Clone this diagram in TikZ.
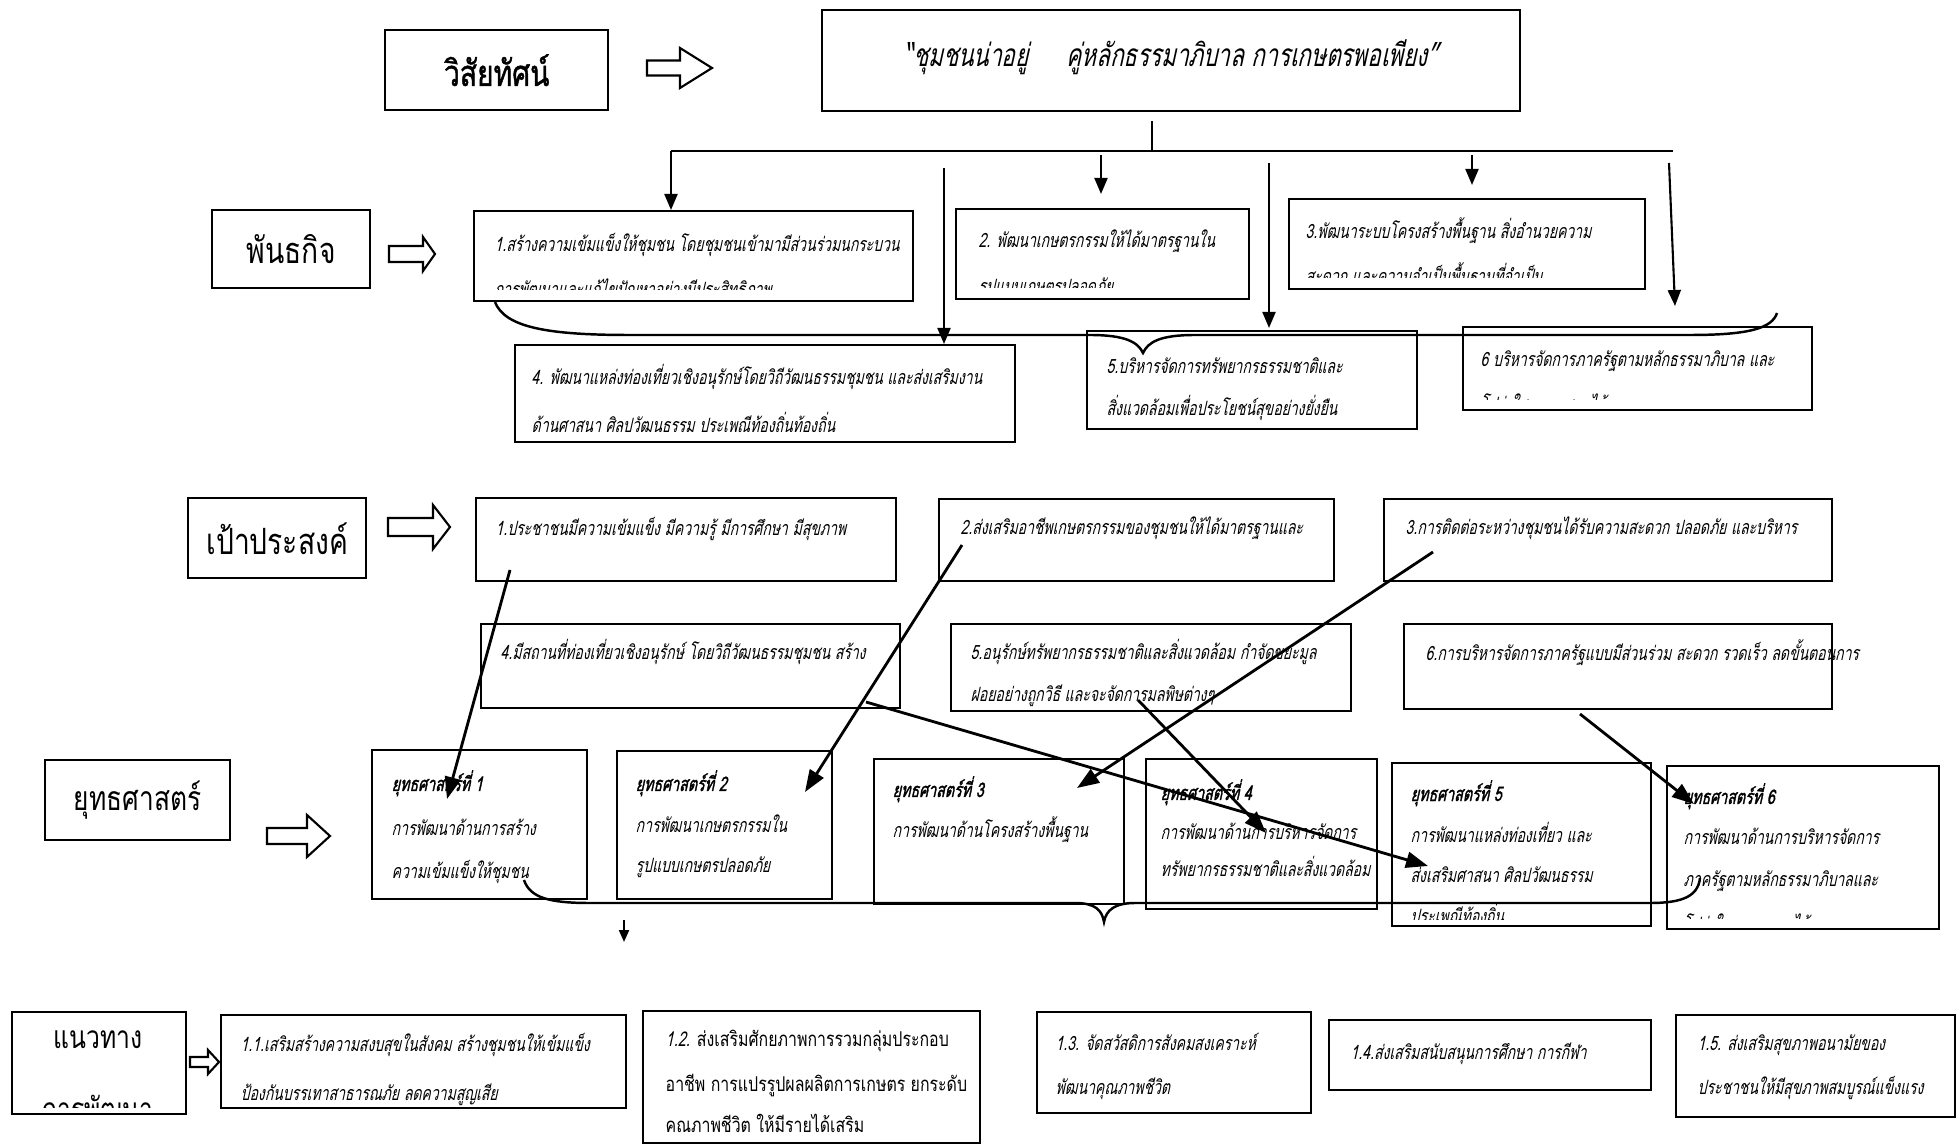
\documentclass[tikz,border=0pt]{standalone}
\usepackage{fontspec}
\usetikzlibrary{arrows.meta,calc,positioning}
\newfontfamily\thaiup[Script=Thai,FakeStretch=0.78]{Loma}
\newfontfamily\thaiit[Script=Thai,FakeSlant=0.22,FakeStretch=0.71]{Loma}
\newfontfamily\thaibi[Script=Thai,FakeSlant=0.22,FakeStretch=0.71,FakeBold=1.5]{Loma}
\newfontfamily\thaihd[Script=Thai,FakeStretch=0.78,FakeBold=1.2]{Loma}
%% block arrow: x, y, shaft end, tip, shaft half width, head half width
\newcommand{\hollowarrow}[6]{%
  \draw[harrow,shift={(#1,#2)}] (0,-#5) -- (#3,-#5) -- (#3,-#6) -- (#4,0)
    -- (#3,#6) -- (#3,#5) -- (0,#5) -- cycle;}

\begin{document}
\begin{tikzpicture}
  [box/.style={draw,line width=0.7pt,anchor=north west,inner sep=0pt},
   lbl/.style={font=\thaiup\fontsize{10.3}{12}\selectfont,inner sep=0pt},
   itx/.style={font=\thaiit\fontsize{5.6}{7}\selectfont,anchor=base west,inner sep=0pt},
   btx/.style={itx,font=\thaibi\fontsize{5.7}{7}\selectfont},
   utx/.style={itx,font=\thaiup\fontsize{5.8}{7}\selectfont},
   line/.style={line width=0.6pt},
   down/.style={line width=0.6pt,-{Triangle[length=0.16cm,width=0.13cm]}},
   link/.style={line width=0.8pt,-{Triangle[length=0.22cm,width=0.16cm]}},
   harrow/.style={line width=0.6pt,line join=miter},
   brace/.style={line width=0.7pt}]
\useasboundingbox (0,0) rectangle (19.6,-11.44);
%%
%% vision
\node[box,minimum width=2.23cm,minimum height=0.80cm] (vlab) at (3.84,-0.29) {};
\node[lbl,font=\thaihd\fontsize{10.3}{12}\selectfont] (vlabt) at (vlab) {วิสัยทัศน์};
\hollowarrow{6.47}{-0.68}{0.33}{0.65}{0.075}{0.20}
\node[box,minimum width=6.98cm,minimum height=1.01cm] (vis) at (8.21,-0.09) {};
\node[inner sep=0pt,font=\thaiit\fontsize{9}{10}\selectfont] (vist) at ($(vis)+(0,0.03)$)
  {“ชุมชนน่าอยู่\hspace{0.38cm}คู่หลักธรรมาภิบาล การเกษตรพอเพียง”};
%%
%% mission
\node[box,minimum width=1.58cm,minimum height=0.78cm] (mlab) at (2.11,-2.09) {};
\node[lbl] (mlabt) at (mlab) {พันธกิจ};
\hollowarrow{3.89}{-2.54}{0.34}{0.46}{0.08}{0.17}
\node[box,minimum width=4.39cm,minimum height=0.90cm] (m1) at (4.73,-2.10) {};
\node[box,minimum width=2.93cm,minimum height=0.90cm] (m2) at (9.55,-2.08) {};
\node[box,minimum width=3.56cm,minimum height=0.90cm] (m3) at (12.88,-1.98) {};
\node[box,minimum width=5.00cm,minimum height=0.97cm] (m4) at (5.14,-3.44) {};
\node[box,minimum width=3.30cm,minimum height=0.98cm] (m5) at (10.86,-3.30) {};
\node[box,minimum width=3.49cm,minimum height=0.83cm] (m6) at (14.62,-3.26) {};
\node[itx] (m1a) at ($(m1.north west)+(0.21,-0.42)$) {1.สร้างความเข้มแข็งให้ชุมชน โดยชุมชนเข้ามามีส่วนร่วมนกระบวน};
\node[itx] (m2a) at ($(m2.north west)+(0.23,-0.40)$) {2. พัฒนาเกษตรกรรมให้ได้มาตรฐานใน};
\node[itx] (m3a) at ($(m3.north west)+(0.17,-0.41)$) {3.พัฒนาระบบโครงสร้างพื้นฐาน สิ่งอำนวยความ};
\node[itx] (m4a) at ($(m4.north west)+(0.17,-0.41)$) {4. พัฒนาแหล่งท่องเที่ยวเชิงอนุรักษ์โดยวิถีวัฒนธรรมชุมชน และส่งเสริมงาน};
\node[itx] (m4b) at ($(m4.north west)+(0.17,-0.89)$) {ด้านศาสนา ศิลปวัฒนธรรม ประเพณีท้องถิ่นท้องถิ่น};
\node[itx] (m5a) at ($(m5.north west)+(0.20,-0.44)$) {5.บริหารจัดการทรัพยากรธรรมชาติและ};
\node[itx] (m5b) at ($(m5.north west)+(0.20,-0.86)$) {สิ่งแวดล้อมเพื่อประโยชน์สุขอย่างยั่งยืน};
\node[itx] (m6a) at ($(m6.north west)+(0.18,-0.41)$) {6 บริหารจัดการภาครัฐตามหลักธรรมาภิบาล และ};
\begin{scope}
\clip (m1.north west) rectangle ($(m1.north east)+(0,-0.80)$);
\node[itx] (m1b) at ($(m1.north west)+(0.21,-0.87)$) {การพัฒนาและแก้ไขปัญหาอย่างมีประสิทธิภาพ};
\end{scope}
\begin{scope}
\clip (m2.north west) rectangle ($(m2.north east)+(0,-0.80)$);
\node[itx] (m2b) at ($(m2.north west)+(0.23,-0.86)$) {รูปแบบเกษตรปลอดภัย};
\end{scope}
\begin{scope}
\clip (m3.north west) rectangle ($(m3.north east)+(0,-0.80)$);
\node[itx] (m3b) at ($(m3.north west)+(0.17,-0.86)$) {สะดวก และความจำเป็นพื้นฐานที่จำเป็น};
\end{scope}
\begin{scope}
\clip (m6.north west) rectangle ($(m6.north east)+(0,-0.74)$);
\node[itx] (m6b) at ($(m6.north west)+(0.18,-0.86)$) {โปร่งใส ตรวจสอบได้};
\end{scope}
%%
\coordinate (vs) at ($(vis.south)+(-0.19,-0.09)$);
\coordinate (busl) at (6.71,-1.51);
\coordinate (busr) at (16.73,-1.51);
\draw[line] (vs) -- (vs |- busl);
\draw[line] (busl) -- (busr);
\draw[down] (busl) -- (busl |- m1.north);
\coordinate (t4) at (9.44,-1.68);
\draw[down] (t4) -- (t4 |- m4.north);
\coordinate (t2) at (11.01,-1.55);
\coordinate (e2) at (11.01,-1.94);
\draw[down] (t2) -- (e2);
\coordinate (t5) at (12.69,-1.63);
\draw[down] (t5) -- ($(t5 |- m5.north)+(0,0.02)$);
\coordinate (t3) at (14.72,-1.55);
\coordinate (e3) at (14.72,-1.85);
\draw[down] (t3) -- (e3);
\coordinate (t6) at (16.69,-1.63);
\coordinate (e6) at (16.75,-3.06);
\draw[down] (t6) -- (e6);
%% brace under the missions
\draw[brace] (4.95,-3.02) .. controls (5.05,-3.28) and (5.5,-3.35) .. (6.3,-3.35)
  -- (10.9,-3.35) .. controls (11.25,-3.35) and (11.38,-3.42) .. (11.43,-3.53)
  .. controls (11.48,-3.42) and (11.6,-3.35) .. (11.95,-3.35)
  -- (16.9,-3.35) .. controls (17.5,-3.35) and (17.72,-3.28) .. (17.77,-3.13);
%%
%% goals
\node[box,minimum width=1.78cm,minimum height=0.80cm] (glab) at (1.87,-4.97) {};
\node[lbl] (glabt) at (glab) {เป้าประสงค์};
\hollowarrow{3.88}{-5.27}{0.45}{0.62}{0.09}{0.22}
\node[box,minimum width=4.20cm,minimum height=0.83cm] (g1) at (4.75,-4.97) {};
\node[box,minimum width=3.95cm,minimum height=0.82cm] (g2) at (9.38,-4.98) {};
\node[box,minimum width=4.48cm,minimum height=0.82cm] (g3) at (13.83,-4.98) {};
\node[box,minimum width=4.19cm,minimum height=0.84cm] (g4) at (4.80,-6.23) {};
\node[box,minimum width=4.00cm,minimum height=0.87cm] (g5) at (9.50,-6.23) {};
\node[box,minimum width=4.28cm,minimum height=0.85cm] (g6) at (14.03,-6.23) {};
\node[itx] (g1a) at ($(g1.north west)+(0.20,-0.39)$) {1.ประชาชนมีความเข้มแข็ง มีความรู้ มีการศึกษา มีสุขภาพ};
\node[itx] (g2a) at ($(g2.north west)+(0.22,-0.37)$) {2.ส่งเสริมอาชีพเกษตรกรรมของชุมชนให้ได้มาตรฐานและ};
\node[itx] (g3a) at ($(g3.north west)+(0.22,-0.37)$) {3.การติดต่อระหว่างชุมชนได้รับความสะดวก ปลอดภัย และบริหาร};
\node[itx] (g4a) at ($(g4.north west)+(0.20,-0.37)$) {4.มีสถานที่ท่องเที่ยวเชิงอนุรักษ์ โดยวิถีวัฒนธรรมชุมชน สร้าง};
\node[itx] (g5a) at ($(g5.north west)+(0.20,-0.37)$) {5.อนุรักษ์ทรัพยากรธรรมชาติและสิ่งแวดล้อม กำจัดขยะมูล};
\node[itx] (g6a) at ($(g6.north west)+(0.22,-0.38)$) {6.การบริหารจัดการภาครัฐแบบมีส่วนร่วม สะดวก รวดเร็ว ลดขั้นตอนการ};
\begin{scope}
\clip (g5.north west) rectangle ($(g5.north east)+(0,-0.84)$);
\node[itx] (g5b) at ($(g5.north west)+(0.20,-0.79)$) {ฝอยอย่างถูกวิธี และจะจัดการมลพิษต่างๆ};
\end{scope}
%%
%% strategies
\node[box,minimum width=1.85cm,minimum height=0.80cm] (slab) at (0.44,-7.59) {};
\node[lbl,font=\thaiup\fontsize{9.6}{12}\selectfont] (slabt) at (slab) {ยุทธศาสตร์};
\hollowarrow{2.67}{-8.36}{0.40}{0.63}{0.08}{0.21}
\node[box,minimum width=2.15cm,minimum height=1.49cm] (s1) at (3.71,-7.49) {};
\node[box,minimum width=2.15cm,minimum height=1.48cm] (s2) at (6.16,-7.50) {};
\node[box,minimum width=2.50cm,minimum height=1.45cm] (s3) at (8.73,-7.58) {};
\node[box,minimum width=2.31cm,minimum height=1.50cm] (s4) at (11.45,-7.58) {};
\node[box,minimum width=2.59cm,minimum height=1.63cm] (s5) at (13.91,-7.62) {};
\node[box,minimum width=2.72cm,minimum height=1.63cm] (s6) at (16.66,-7.65) {};
\node[btx] (s1a) at ($(s1.north west)+(0.20,-0.42)$) {ยุทธศาสตร์ที่ 1};
\node[itx] (s1b) at ($(s1.north west)+(0.20,-0.86)$) {การพัฒนาด้านการสร้าง};
\node[itx] (s1c) at ($(s1.north west)+(0.20,-1.29)$) {ความเข้มแข็งให้ชุมชน};
\node[btx] (s2a) at ($(s2.north west)+(0.19,-0.41)$) {ยุทธศาสตร์ที่ 2};
\node[itx] (s2b) at ($(s2.north west)+(0.19,-0.82)$) {การพัฒนาเกษตรกรรมใน};
\node[itx] (s2c) at ($(s2.north west)+(0.19,-1.22)$) {รูปแบบเกษตรปลอดภัย};
\node[btx] (s3a) at ($(s3.north west)+(0.19,-0.39)$) {ยุทธศาสตร์ที่ 3};
\node[itx] (s3b) at ($(s3.north west)+(0.19,-0.80)$) {การพัฒนาด้านโครงสร้างพื้นฐาน};
\node[btx] (s4a) at ($(s4.north west)+(0.15,-0.42)$) {ยุทธศาสตร์ที่ 4};
\node[itx] (s4b) at ($(s4.north west)+(0.15,-0.82)$) {การพัฒนาด้านการบริหารจัดการ};
\node[itx] (s4c) at ($(s4.north west)+(0.15,-1.18)$) {ทรัพยากรธรรมชาติและสิ่งแวดล้อม};
\node[btx] (s5a) at ($(s5.north west)+(0.19,-0.39)$) {ยุทธศาสตร์ที่ 5};
\node[itx] (s5b) at ($(s5.north west)+(0.19,-0.81)$) {การพัฒนาแหล่งท่องเที่ยว และ};
\node[itx] (s5c) at ($(s5.north west)+(0.19,-1.20)$) {ส่งเสริมศาสนา ศิลปวัฒนธรรม};
\node[btx] (s6a) at ($(s6.north west)+(0.17,-0.39)$) {ยุทธศาสตร์ที่ 6};
\node[itx] (s6b) at ($(s6.north west)+(0.17,-0.80)$) {การพัฒนาด้านการบริหารจัดการ};
\node[itx] (s6c) at ($(s6.north west)+(0.17,-1.21)$) {ภาครัฐตามหลักธรรมาภิบาลและ};
\begin{scope}
\clip (s5.north west) rectangle ($(s5.north east)+(0,-1.57)$);
\node[itx] (s5d) at ($(s5.north west)+(0.19,-1.61)$) {ประเพณีท้องถิ่น};
\end{scope}
\begin{scope}
\clip (s6.north west) rectangle ($(s6.north east)+(0,-1.53)$);
\node[itx] (s6d) at ($(s6.north west)+(0.17,-1.66)$) {โปร่งใส ตรวจสอบได้};
\end{scope}
%%
%% goals to strategies
\draw[link] ($(g1.north west)+(0.35,-0.73)$) -- ($(s1.north west)+(0.76,-0.50)$);
\draw[link] ($(g2.north west)+(0.24,-0.47)$) -- ($(s2.north west)+(1.89,-0.42)$);
\draw[link] ($(g3.north west)+(0.50,-0.54)$) -- ($(s3.north west)+(2.04,-0.30)$);
\draw[link] ($(g4.north west)+(3.86,-0.79)$) -- ($(s5.north west)+(0.37,-1.04)$);
\draw[link] ($(g5.north west)+(1.88,-0.77)$) -- ($(s4.north west)+(1.21,-0.75)$);
\draw[link] ($(g6.north west)+(1.77,-0.91)$) -- ($(s6.north west)+(0.28,-0.39)$);
%% brace under the strategies
\draw[brace] (5.24,-8.80) .. controls (5.3,-8.98) and (5.5,-9.03) .. (5.9,-9.03)
  -- (10.75,-9.03) .. controls (10.95,-9.03) and (11.02,-9.1) .. (11.04,-9.22)
  .. controls (11.06,-9.1) and (11.15,-9.03) .. (11.35,-9.03)
  -- (16.5,-9.03) .. controls (16.85,-9.03) and (16.98,-8.95) .. (17.0,-8.78);
\coordinate (d0) at (6.24,-9.20);
\coordinate (d1) at (6.24,-9.42);
\draw[line,-{Triangle[length=0.12cm,width=0.10cm]}] (d0) -- (d1);
%%
%% guidelines
\node[box,minimum width=1.74cm,minimum height=1.02cm] (blab) at (0.11,-10.11) {};
\node[lbl,anchor=base,font=\thaiup\fontsize{9}{12}\selectfont] (blaba) at (0.98,-10.48) {แนวทาง};
\begin{scope}
\clip (blab.north west) rectangle ($(blab.north east)+(0,-0.96)$);
\node[lbl,anchor=base,font=\thaiup\fontsize{9}{12}\selectfont] (blabb) at (0.98,-11.20) {การพัฒนา};
\end{scope}
\hollowarrow{1.90}{-10.62}{0.18}{0.29}{0.05}{0.12}
\node[box,minimum width=4.05cm,minimum height=0.93cm] (b1) at (2.20,-10.14) {};
\node[box,minimum width=3.37cm,minimum height=1.32cm] (b2) at (6.42,-10.10) {};
\node[box,minimum width=2.74cm,minimum height=1.01cm] (b3) at (10.36,-10.11) {};
\node[box,minimum width=3.22cm,minimum height=0.70cm] (b4) at (13.28,-10.19) {};
\node[box,minimum width=2.79cm,minimum height=1.02cm] (b5) at (16.75,-10.14) {};
\node[itx] (b1a) at ($(b1.north west)+(0.20,-0.37)$) {1.1.เสริมสร้างความสงบสุขในสังคม สร้างชุมชนให้เข้มแข็ง};
\node[itx] (b1b) at ($(b1.north west)+(0.20,-0.86)$) {ป้องกันบรรเทาสาธารณภัย ลดความสูญเสีย};
\node[utx] (b2a) at ($(b2.north west)+(0.23,-0.36)$) {{\thaiit 1.2.} ส่งเสริมศักยภาพการรวมกลุ่มประกอบ};
\node[utx] (b2b) at ($(b2.north west)+(0.23,-0.81)$) {อาชีพ การแปรรูปผลผลิตการเกษตร ยกระดับ};
\node[utx] (b2c) at ($(b2.north west)+(0.23,-1.22)$) {คณภาพชีวิต ให้มีรายได้เสริม};
\node[itx] (b3a) at ($(b3.north west)+(0.19,-0.39)$) {1.3. จัดสวัสดิการสังคมสงเคราะห์};
\node[itx] (b3b) at ($(b3.north west)+(0.19,-0.83)$) {พัฒนาคุณภาพชีวิต};
\node[itx] (b4a) at ($(b4.north west)+(0.22,-0.40)$) {1.4.ส่งเสริมสนับสนุนการศึกษา การกีฬา};
\node[itx] (b5a) at ($(b5.north west)+(0.22,-0.36)$) {1.5. ส่งเสริมสุขภาพอนามัยของ};
\node[itx] (b5b) at ($(b5.north west)+(0.22,-0.80)$) {ประชาชนให้มีสุขภาพสมบูรณ์แข็งแรง};
\end{tikzpicture}
\end{document}
